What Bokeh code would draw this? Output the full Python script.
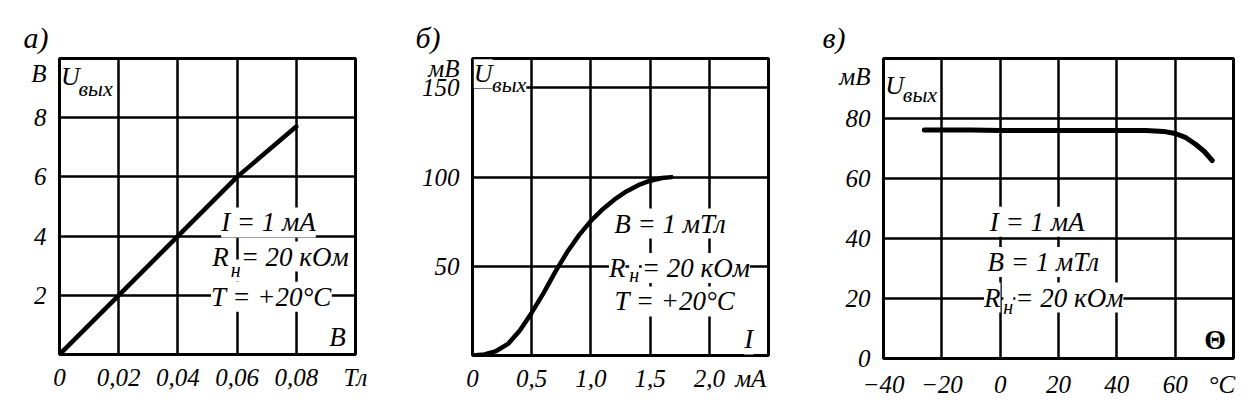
from bokeh.plotting import figure
from bokeh.layouts import row
from bokeh.models import Range1d, FixedTicker, Label
from bokeh.embed import file_html
from bokeh.resources import INLINE

FONT = "Liberation Sans Narrow"

# ---------- panel а) : U_вых vs B ----------
a_x = [0, 0.02, 0.04, 0.06, 0.08]
a_y = [0, 2, 4, 6, 7.7]
a_xticks = [0, 0.02, 0.04, 0.06, 0.08, 0.1]
a_xlabels = ["0", "0,02", "0,04", "0,06", "0,08", "Тл"]
a_yticks = [2, 4, 6, 8, 9.5]
a_ylabels = ["2", "4", "6", "8", "В"]

# ---------- panel б) : U_вых vs I ----------
b_x = [0, 0.1, 0.2, 0.3, 0.4, 0.5, 0.6, 0.7, 0.8, 0.9, 1.0, 1.1, 1.2, 1.3, 1.4, 1.5, 1.6, 1.68]
b_y = [0, 0.6, 2.5, 6.5, 14, 24, 35, 47, 58, 67.5, 75.5, 82, 87.5, 92, 95.5, 98, 99.5, 100]
b_xticks = [0, 0.5, 1.0, 1.5, 2.0, 2.35]
b_xlabels = ["0", "0,5", "1,0", "1,5", "2,0", "мА"]
b_yticks = [50, 100, 150, 161]
b_ylabels = ["50", "100", "150", "мВ"]

# ---------- panel в) : U_вых vs temperature ----------
c_x = [-26, -10, 0, 20, 40, 50, 56, 60, 63.7, 67, 70, 72.7]
c_y = [76.2, 76.2, 76, 76, 76, 76, 75.7, 75, 73.6, 71.4, 69, 66]
c_xticks = [-40, -20, 0, 20, 40, 60, 76]
c_xlabels = ["−40", "−20", "0", "20", "40", "60", "°C"]
c_yticks = [0, 20, 40, 60, 80, 94]
c_ylabels = ["0", "20", "40", "60", "80", "мВ"]


def make_fig(title, toff, xr, yr, fw, fh, left, right, top, bottom,
             xticks, xlabels, yticks, ylabels, xgrid, ygrid, xstand):
    p = figure(frame_width=fw, frame_height=fh, x_range=Range1d(*xr), y_range=Range1d(*yr),
               min_border_left=left, min_border_right=right, min_border_top=top,
               min_border_bottom=bottom, toolbar_location=None, output_backend="svg",
               title=title)
    p.title.align = "left"
    p.title.offset = toff
    p.title.standoff = 10
    p.title.text_font = FONT
    p.title.text_font_style = "italic"
    p.title.text_font_size = "30px"
    p.title.text_color = "black"
    p.background_fill_color = "white"
    p.border_fill_color = "white"
    p.outline_line_color = "black"
    p.outline_line_width = 3
    for ax, ticks, labels, st in ((p.xaxis[0], xticks, xlabels, xstand), (p.yaxis[0], yticks, ylabels, 7)):
        ax.ticker = FixedTicker(ticks=ticks)
        ax.major_label_overrides = {t: l for t, l in zip(ticks, labels)}
        ax.axis_line_color = None
        ax.major_tick_line_color = None
        ax.minor_tick_line_color = None
        ax.major_label_text_font = FONT
        ax.major_label_text_font_style = "italic"
        ax.major_label_text_font_size = "25px"
        ax.major_label_text_color = "black"
        ax.major_label_standoff = st
    p.xgrid.ticker = FixedTicker(ticks=xgrid)
    p.ygrid.ticker = FixedTicker(ticks=ygrid)
    for g in (p.xgrid, p.ygrid):
        g.grid_line_color = "black"
        g.grid_line_width = 2.5
    return p


def txt(p, x, y, t, size="27px", align="center", bg=True, style="italic"):
    lab = Label(x=x, y=y, text=t, text_font=FONT, text_font_style=style, text_font_size=size,
                text_align=align, text_baseline="middle", text_color="black")
    if bg:
        lab.background_fill_color = "white"
    p.add_layout(lab)


# ---- figure a  (canvas 0..405)
fa = make_fig("а)", -36, (0, 0.1), (0, 10), 296, 296, 59, 50, 58, 38, a_xticks, a_xlabels,
              a_yticks, a_ylabels, [0.02, 0.04, 0.06, 0.08], [2, 4, 6, 8], 3)
fa.line(a_x, a_y, line_color="black", line_width=4.5, line_cap="round")
txt(fa, 0.0037, 9.4, "U", size="26px")
txt(fa, 0.0122, 9.0, "вых", size="22px")
txt(fa, 0.0706, 4.46, "I = 1 мА")
txt(fa, 0.0544, 3.31, "R")
txt(fa, 0.0595, 2.84, "н", size="20px")
txt(fa, 0.0612, 3.31, "= 20 кОм", align="left")
txt(fa, 0.0716, 1.95, "T = +20°C")
txt(fa, 0.0939, 0.6, "В")

# ---- figure b  (canvas 405..815)
fb = make_fig("б)", -57, (0, 2.5), (0, 166.5), 296, 297, 67, 47, 57, 38, b_xticks, b_xlabels,
              b_yticks, b_ylabels, [0.5, 1.0, 1.5, 2.0], [50, 100, 150], 3)
fb.line(b_x, b_y, line_color="black", line_width=4.5, line_cap="round")
txt(fb, 0.09, 158, "U", size="26px")
txt(fb, 0.31, 152, "вых", size="22px")
txt(fb, 1.668, 74, "B = 1 мТл")
txt(fb, 1.222, 49, "R")
txt(fb, 1.365, 45.4, "н", size="20px")
txt(fb, 1.43, 49, "= 20 кОм", align="left")
txt(fb, 1.71, 30.3, "T = +20°C")
txt(fb, 2.334, 9, "I")

# ---- figure c  (canvas 815..1238)
fc = make_fig("в)", -61, (-40, 80), (0, 100), 350, 300, 68, 5, 55, 39, c_xticks, c_xlabels,
              c_yticks, c_ylabels, [-20, 0, 20, 40, 60], [20, 40, 60, 80], 6)
fc.line(c_x, c_y, line_color="black", line_width=5, line_cap="round")
txt(fc, -36.2, 91, "U", size="26px")
txt(fc, -27.5, 88, "вых", size="22px")
txt(fc, 12.7, 45.6, "I = 1 мА")
txt(fc, 14.8, 32.2, "B = 1 мТл")
txt(fc, -2.7, 20.3, "R")
txt(fc, 2.8, 17.3, "н", size="20px")
txt(fc, 5.2, 20.3, "= 20 кОм", align="left")
txt(fc, 73.7, 6.3, "Θ", size="28px", style="bold")

layout = row(fa, fb, fc)
open("out.html", "w").write(file_html(layout, INLINE))
